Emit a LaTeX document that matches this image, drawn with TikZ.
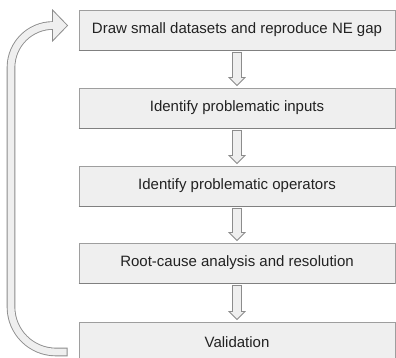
\documentclass[tikz,border=0pt]{standalone}
\usepackage{fontspec}
\setmainfont{Liberation Sans}
\usetikzlibrary{calc}
\definecolor{boxfill}{HTML}{EFEFEF}
\definecolor{boxline}{HTML}{9E9E9E}
\definecolor{boxshade}{HTML}{808080}
\definecolor{arrline}{HTML}{8C8C8C}
\definecolor{txt}{HTML}{222222}
\tikzset{
  stepbox/.style={draw=boxline, line width=0.9pt, fill=boxfill, minimum width=316pt,
    minimum height=40pt, inner sep=0pt, font=\fontsize{15}{18}\selectfont, text=txt},
  blockarrow/.style={draw=arrline, line width=0.8pt, fill=boxfill, line join=miter},
}
\newcommand\downarrowbetween[2]{%
  \path[blockarrow]
    ($(#1.south)+(-4.5,2)$) -- ($(#2.north)+(-4.5,-10)$) -- ($(#2.north)+(-8,-10)$)
    -- ($(#2.north)+(0,-2)$) -- ($(#2.north)+(8,-10)$) -- ($(#2.north)+(4.5,-10)$)
    -- ($(#1.south)+(4.5,2)$) -- cycle;}
\newcommand\shadebottom[1]{%
  \draw[boxshade, line width=0.8pt] ($(#1.south west)+(0,0.4)$) -- ($(#1.south east)+(0,0.4)$);}
\begin{document}
\begin{tikzpicture}[x=1pt,y=-1pt]
\useasboundingbox (0,0) rectangle (396,358);
\clip (0,0) rectangle (396,358);
\node[stepbox] (b1) at (237,30) {Draw small datasets and reproduce NE gap};
\node[stepbox] (b2) at (237,108) {Identify problematic inputs};
\node[stepbox] (b3) at (237,186) {Identify problematic operators};
\node[stepbox] (b4) at (237,263) {Root-cause analysis and resolution};
\node[stepbox] (b5) at (237,342) {Validation};
\foreach \b in {b1,b2,b3,b4,b5}{\shadebottom{\b}}
\downarrowbetween{b1}{b2}
\downarrowbetween{b2}{b3}
\downarrowbetween{b3}{b4}
\downarrowbetween{b4}{b5}
% loop arrow from Validation back to the first step
\coordinate (loopstart) at ($(b5.west)+(-11,10)$);
\coordinate (loopbl) at (11,352);
\coordinate (looptl) at (11,25.5);
\coordinate (loopend) at ($(b1.west)+(-26,-4.5)$);
\coordinate (looptip) at ($(b1.west)+(-11,-4.5)$);
\draw[arrline, line width=8.6pt]
  (loopstart) [rounded corners=45pt] -- (loopbl) -- (11,200) [rounded corners=42pt] -- (looptl) -- (loopend);
\path[blockarrow] ($(loopend)+(0,-15.5)$) -- (looptip) -- ($(loopend)+(0,15.5)$) -- cycle;
\draw[boxfill, line width=6.8pt]
  ($(loopstart)+(-0.9,0)$) [rounded corners=45pt] -- (loopbl) -- (11,200) [rounded corners=42pt] -- (looptl) -- ($(loopend)+(1.4,0)$);
\end{tikzpicture}
\end{document}
